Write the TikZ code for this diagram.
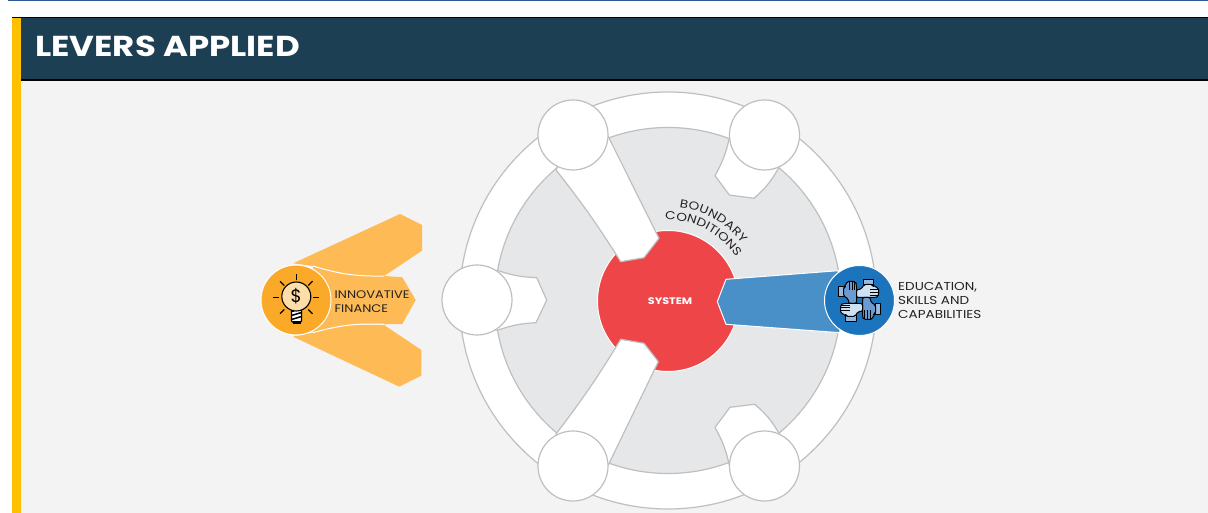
\documentclass[tikz,border=0pt]{standalone}
\usepackage{fontspec}
\setmainfont{Poppins}
\newfontfamily\widefont[FakeStretch=1.18]{Poppins}
\usetikzlibrary{positioning,decorations.text}

\definecolor{ringline}{HTML}{BFBFBF}
\definecolor{discgray}{HTML}{E6E7E8}
\definecolor{panelgray}{HTML}{F3F3F3}
\definecolor{headerblue}{HTML}{1D3F54}
\definecolor{stripeyellow}{HTML}{FFC000}
\definecolor{topline}{HTML}{2B5797}
\definecolor{sysred}{HTML}{EE4648}
\definecolor{finlight}{HTML}{FDBA55}
\definecolor{findark}{HTML}{FBA928}
\definecolor{bulbfill}{HTML}{FDDDA8}
\definecolor{edulight}{HTML}{4A90C8}
\definecolor{edudark}{HTML}{1C75BC}
\definecolor{handmid}{HTML}{6C9BD2}
\definecolor{handpale}{HTML}{CFE2F3}
\definecolor{labeltext}{HTML}{222222}

\newcommand{\curvefont}{\widefont\fontsize{11.5}{12}\selectfont}

\tikzset{
  slot/.style={circle,draw=ringline,fill=white,line width=1.2pt,minimum size=70pt,inner sep=0pt},
  arm/.style={draw=ringline,fill=white,line width=1.2pt,line join=round},
  lever/.style={circle,draw=white,line width=1pt,minimum size=70pt,inner sep=0pt},
  leverlabel/.style={align=left,text=labeltext,inner sep=0pt},
  curvedlabel/.style={decorate,decoration={text along path,text align={fit to path},text color=labeltext,text={|\curvefont|#1}}},
}

\begin{document}
\begin{tikzpicture}[x=1pt,y=1pt]
  \useasboundingbox[fill=white] (0,0) rectangle (1208,513);

  % header and panel
  \fill[panelgray] (21,0) rectangle (1208,433);
  \fill[headerblue] (21,433) rectangle (1208,495);
  \fill[stripeyellow] (12,0) rectangle (21,496);
  \draw[line width=1pt,topline] (8,512.5) -- (1208,512.5);
  \draw[line width=1.6pt] (12,495.5) -- (1208,495.5);
  \draw[line width=1.6pt] (21,433) -- (1208,433);
  \node[anchor=west,text=white,inner sep=0pt,font=\widefont\fontsize{28.8}{30}\selectfont\bfseries] (title) at (35,467) {LEVERS APPLIED};

  % ring and disc
  \node[circle,draw=ringline,fill=white,line width=1.2pt,minimum size=417pt,inner sep=0pt] (ring) at (668,212.5) {};
  \node[circle,draw=ringline,fill=discgray,line width=1.2pt,minimum size=346pt,inner sep=0pt] (disc) at (668,212.5) {};
  \node[circle,draw=white,fill=sysred,line width=1pt,minimum size=141pt,inner sep=0pt] (sys) at (668,212) {};
  \node[text=white,inner sep=0pt,font=\widefont\fontsize{9.5}{11}\selectfont\bfseries] (syslabel) at (670,212) {SYSTEM};

  \path[curvedlabel=BOUNDARY] (668,212)+(83:94) arc[start angle=83,end angle=38,radius=94];
  \path[curvedlabel=CONDITIONS] (668,212)+(92:81) arc[start angle=92,end angle=33,radius=81];

  % arms
  \draw[arm] (573,378) -- (608.3,376.3) -- (659,274.7) -- (644,255.3) -- (620.7,251.3) to[bend right=3] (556,343) -- cycle;
  \draw[arm] (573,47) -- (608.3,48) -- (658.3,151.3) -- (644,169.7) -- (620.7,173.7) to[bend left=3] (556,79) -- cycle;
  \draw[arm] (764.5,378) -- (729.3,374.7) to[bend left=8] (715,337.3) -- (729.3,318) -- (754,314.7) to[bend right=10] (779.3,346.3) -- cycle;
  \draw[arm] (764.5,47) -- (729.3,48) to[bend right=8] (715,85.7) -- (730,105.7) -- (754.7,108.7) to[bend left=10] (779.3,79) -- cycle;
  \draw[arm] (477,242.3) -- (498.3,242.3) to[bend right=8] (536.7,235.3) -- (546.7,213) -- (536,190.3) to[bend right=8] (498.3,183) -- (477,183) -- cycle;

  % innovative finance lever
  \fill[finlight] (293.3,249.7) -- (400,299) -- (422,288) -- (422,262.3) -- (384,237) to[bend left=9] (313,247) -- cycle;
  \fill[finlight] (293,176.3) -- (399.3,126.3) -- (421.3,137.3) -- (421.3,163) -- (384,188) to[bend right=9] (313,180.3) -- cycle;
  \fill[finlight] (313,247) to[bend right=9] (384,237) -- (402.3,235.7) -- (415.7,213) -- (402.3,189) -- (384,188.7) to[bend right=9] (313,180.3) -- cycle;
  \draw[white,line width=1pt] (313,247) to[bend right=9] (384,237);
  \draw[white,line width=1pt] (384,188.7) to[bend right=9] (313,180.3);

  % education lever
  \draw[draw=white,fill=edulight,line width=1pt,line join=round] (838.3,242.3) -- (726,233.7) -- (717.3,211.3) -- (726,188.7) -- (840,180.3) -- cycle;

  % circles
  \node[slot] (tl) at (573,378) {};
  \node[slot] (tr) at (764.5,378) {};
  \node[slot] (bl) at (573,47) {};
  \node[slot] (br) at (764.5,47) {};
  \node[slot] (lf) at (477,213) {};
  \node[lever,fill=findark] (fin) at (296,213) {};
  \node[lever,fill=edudark] (edu) at (859.5,212.5) {};

  \node[leverlabel,font=\widefont\fontsize{11}{13.8}\selectfont,right=3pt of fin,yshift=-2pt] (finlabel) {INNOVATIVE\\FINANCE};
  \node[leverlabel,font=\widefont\fontsize{11.5}{14}\selectfont,right=3pt of edu] (edulabel) {EDUCATION,\\SKILLS AND\\CAPABILITIES};

  % bulb
  \foreach \ang in {0,45,90,135,180,225,-45}
    \draw[line width=1.2pt] (296.3,215.5)+(\ang:17) -- +(\ang:23);
  \draw[fill=white,line width=1.1pt,rounded corners=1pt] (291.5,205) rectangle (301.5,191);
  \foreach \yy in {195,199,203}
    \draw[line width=1.5pt] (291.5,\yy-1.5) -- (301.5,\yy+1.5);
  \fill (292.5,191.5) rectangle (300.5,189);
  \node[circle,draw,fill=bulbfill,line width=1.1pt,minimum size=29pt,inner sep=0pt,font=\fontsize{18}{18}\selectfont] (bulb) at (296.3,216.5) {\$};

  % hands
  \foreach \ang/\col in {0/handmid,-90/handpale,-180/handmid,-270/handpale} {
    \begin{scope}[shift={(edu.center)},rotate=\ang,line width=1pt,line join=round]
      \draw[fill=handmid!70] (-21,3.5) rectangle (-15.5,14);
      \draw[fill=\col,rounded corners=2pt] (-16,4) -- (-11,2) -- (-11,-3) -- (-3,-3) -- (-3,16) -- (-4,19) -- (-13,19) -- (-14,14) -- (-16,13.5) -- cycle;
      \foreach \xx in {-10.5,-7.5,-5}
        \draw (\xx,19) -- (\xx,10);
    \end{scope}
  }
\end{tikzpicture}
\end{document}
